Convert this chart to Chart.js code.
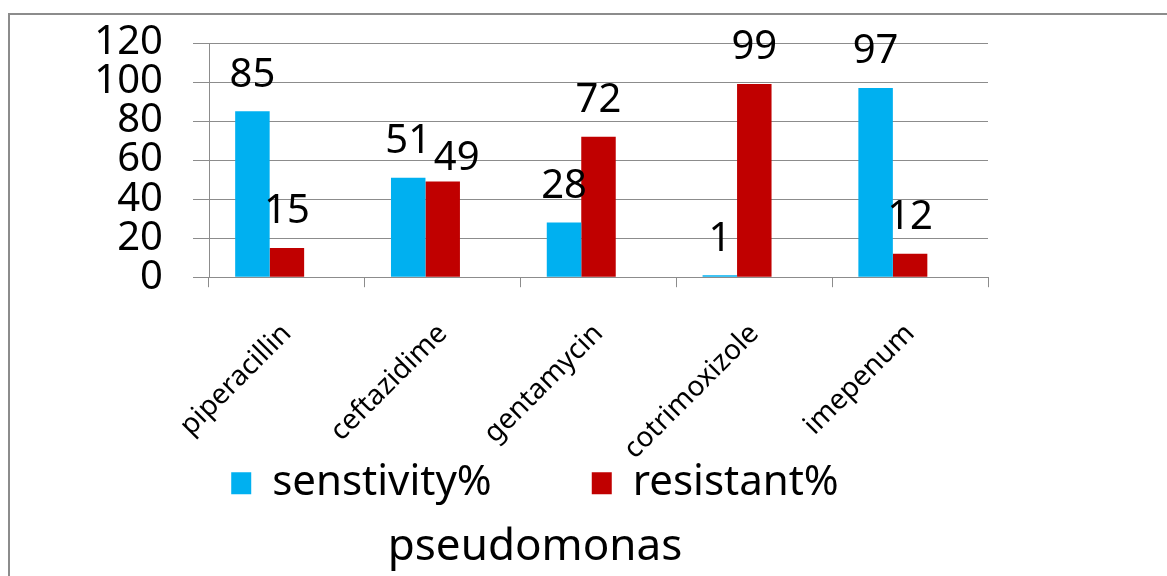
<!DOCTYPE html>
<html>
<head>
<meta charset="utf-8">
<script src="https://cdn.jsdelivr.net/npm/chart.js@4"></script>
<style>
  html, body { margin: 0; padding: 0; background: #fff; }
  body { width: 1167px; height: 576px; position: relative; overflow: hidden; }
  #frame {
    position: absolute; left: 8px; top: 13px; right: -10px; bottom: -10px;
    border-left: 2px solid #8c8c8c; border-top: 2px solid #8c8c8c;
  }
  #chart { position: absolute; left: 10px; top: 15px; }
</style>
</head>
<body>
<div id="frame"></div>
<canvas id="chart" width="1050" height="561"></canvas>
<script>
const drugs       = ['piperacillin', 'ceftazidime', 'gentamycin', 'cotrimoxizole', 'imepenum'];
const sensitivity = [85, 51, 28, 1, 97];
const resistant   = [15, 49, 72, 99, 12];
const emptyCol    = [null, null, null, null, null];   // blank third column in the sheet
const yTicks      = [0, 20, 40, 60, 80, 100, 120];

const FONT = '"Noto Sans", sans-serif';
const GRID = '#8c8c8c';

/* ----- value labels above each bar ----- */
const valueLabels = {
  id: 'valueLabels',
  afterDatasetsDraw(chart) {
    const ctx = chart.ctx;
    ctx.save();
    ctx.font = '40px ' + FONT;
    ctx.fillStyle = '#000';
    ctx.textAlign = 'center';
    ctx.textBaseline = 'middle';
    const prev = [];
    chart.data.datasets.forEach((ds, di) => {
      chart.getDatasetMeta(di).data.forEach((bar, i) => {
        const v = ds.data[i];
        if (v == null) return;
        let x = bar.x, y = bar.y - 36;
        const p = prev[i];
        // nudge a label that would collide with its neighbour
        if (p && Math.abs(p.y - y) < 30) { x += 14; y += 13; }
        ctx.fillText(String(v), x, y);
        prev[i] = { x, y };
      });
    });
    ctx.restore();
  }
};

new Chart(document.getElementById('chart'), {
  type: 'bar',
  data: {
    labels: drugs,
    datasets: [
      { label: 'senstivity%', data: sensitivity, backgroundColor: '#00b0f0', borderWidth: 0 },
      { label: 'resistant%',  data: resistant,   backgroundColor: '#c00000', borderWidth: 0 },
      { label: '',            data: emptyCol,    backgroundColor: 'rgba(0,0,0,0)', borderWidth: 0 }
    ]
  },
  options: {
    responsive: false,
    animation: false,
    devicePixelRatio: 1,
    categoryPercentage: 0.664,
    barPercentage: 1,
    layout: { padding: { top: 28, left: 0, right: 0, bottom: 0 } },
    plugins: {
      tooltip: { enabled: false },
      legend: {
        position: 'bottom',
        labels: {
          font: { family: FONT, size: 42 },
          color: '#000',
          boxWidth: 20,
          boxHeight: 22,
          padding: 100,
          filter: item => item.text !== ''
        }
      },
      title: {
        display: true,
        position: 'bottom',
        text: 'pseudomonas',
        color: '#000',
        font: { family: FONT, size: 44, weight: 'normal' },
        padding: { top: 7, bottom: 2 }
      }
    },
    scales: {
      x: {
        grid: { display: true, drawOnChartArea: false, drawTicks: true, tickLength: 10, color: GRID },
        border: { display: true, color: GRID },
        ticks: {
          font: { family: FONT, size: 28 },
          color: '#000',
          minRotation: 45,
          maxRotation: 45,
          autoSkip: false,
          padding: 30
        },
        afterFit: s => {
          s.height = 85;
          s._computeLabelArea = () => null;   // let the slanted names run past the axis box
        }
      },
      y: {
        min: 0,
        max: 120,
        afterBuildTicks: s => { s.ticks = yTicks.map(v => ({ value: v })); },
        grid: { color: GRID, tickLength: 16 },
        border: { display: true, color: GRID },
        ticks: { font: { family: FONT, size: 40 }, color: '#000', padding: 30, autoSkip: false },
        afterFit: s => { s.width = 199; s.paddingTop = 20; }
      },
      yR: {
        position: 'right',
        display: true,
        grid: { display: false },
        border: { display: false },
        ticks: { display: false },
        afterFit: s => { s.width = 72; }
      }
    }
  },
  plugins: [valueLabels]
});
</script>
</body>
</html>
